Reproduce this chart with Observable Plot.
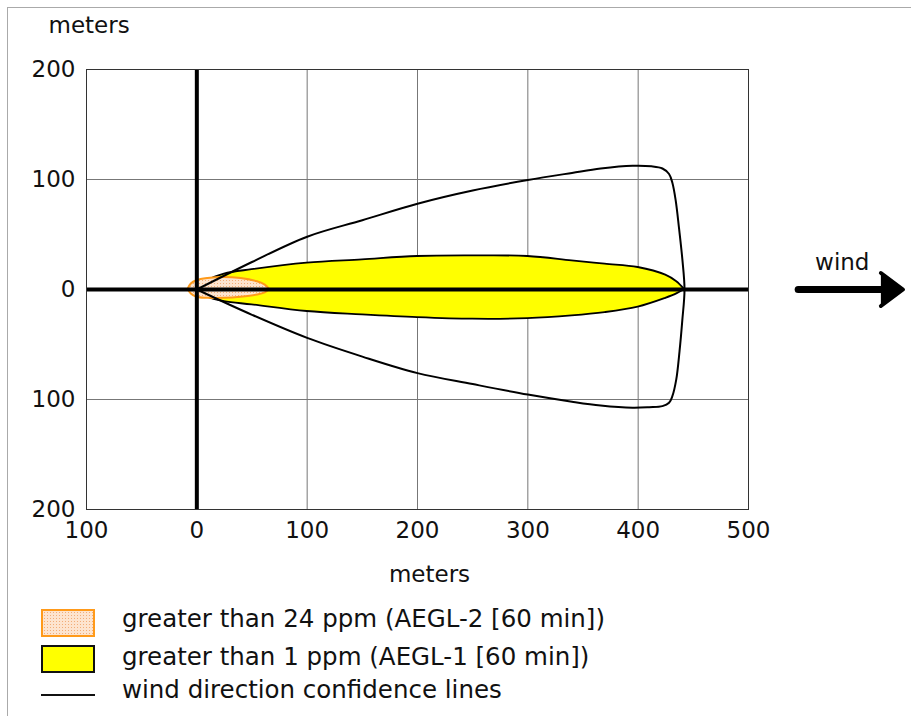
<!DOCTYPE html>
<html><head><meta charset="utf-8">
<script src="https://cdn.jsdelivr.net/npm/d3@7"></script>
<script src="https://cdn.jsdelivr.net/npm/@observablehq/plot@0.6"></script>
<style>
body{margin:0;background:#fff;font-family:"DejaVu Sans",Verdana,sans-serif;}
#wrap{position:relative;width:911px;height:716px;overflow:hidden;background:#fff;}
#border{position:absolute;left:7px;top:7px;right:0;bottom:0;border-top:1px solid #aaa;border-left:1px solid #aaa;pointer-events:none;}
#chart{position:absolute;left:0;top:0;}
.leg{position:absolute;font-size:24.5px;color:#111;line-height:1;white-space:nowrap;}
.sw{position:absolute;box-sizing:border-box;}
</style></head>
<body><div id="wrap"><div id="chart"></div><div id="legend"></div><div id="border"></div></div>
<script>
// ---- data ----
const xTicks = [-100, 0, 100, 200, 300, 400, 500];
const yTicks = [-200, -100, 0, 100, 200];
// AEGL-1 (> 1 ppm) footprint: downwind distance, upper / lower edge (m)
const aegl1X     = [0, 10, 25, 50, 100, 150, 200, 250, 300, 340, 370, 400, 425, 435, 442];
const aegl1Upper = [0, 8, 14, 18, 24, 27, 30, 30.5, 30, 26, 23, 20, 13, 7, 0];
const aegl1Lower = [0, -7, -11, -14, -20, -23, -25.5, -27, -26.5, -24, -21, -16, -8, -4, 0];
// AEGL-2 (> 24 ppm) footprint
const aegl2X     = [-8, -5, 0, 10, 25, 40, 55, 62, 66];
const aegl2Upper = [0, 5, 8, 10, 11, 10, 7, 4, 0];
const aegl2Lower = [0, -4, -7, -8, -8, -7, -5, -3, 0];
// wind direction confidence lines (closed outline)
const confX = [0, 50, 100, 150, 200, 250, 300, 340, 366, 395, 412, 422, 428, 431, 434, 437, 440, 442,
               440, 437.5, 434.5, 431, 428, 422, 410, 395, 366, 340, 300, 250, 200, 150, 100, 50, 0];
const confY = [0, 25, 48, 63, 78, 90, 99.5, 106, 110, 112.5, 112, 110, 105, 97, 81, 56, 28, 0,
               -28, -56, -82, -97, -103, -106, -107, -107.5, -105.5, -102, -95.5, -86, -76, -61, -44, -23, 0];
// wind arrow (in plot units, drawn outside frame)
const windShaftX = [545, 625];
const windHeadX = [620, 640, 620];
const windHeadY = [15, 0, -15];
const legendItems = [
  "greater than 24 ppm (AEGL-2 [60 min])",
  "greater than 1 ppm (AEGL-1 [60 min])",
  "wind direction confidence lines"
];

const aegl1 = aegl1X.map((x, i) => ({x, lo: aegl1Lower[i], hi: aegl1Upper[i]}));
const aegl2 = aegl2X.map((x, i) => ({x, lo: aegl2Lower[i], hi: aegl2Upper[i]}));
const conf = confX.map((x, i) => ({x, y: confY[i]}));
const shaft = windShaftX.map(x => ({x, y: 0}));
const head = windHeadX.map((x, i) => ({x, y: windHeadY[i]}));

const defs = () => {
  const d = d3.create("svg:defs");
  const p = d.append("pattern").attr("id", "dots").attr("width", 3).attr("height", 3)
    .attr("patternUnits", "userSpaceOnUse");
  p.append("rect").attr("width", 3).attr("height", 3).attr("fill", "#fde4cf");
  p.append("rect").attr("x", 1).attr("y", 1).attr("width", 1).attr("height", 1).attr("fill", "#f2ad78");
  return d.node();
};

const abs = d => String(Math.abs(d));

const chart = Plot.plot({
  width: 911,
  height: 595,
  marginLeft: 86, marginRight: 163, marginTop: 69, marginBottom: 86,
  x: {domain: [-100, 500]},
  y: {domain: [-200, 200]},
  style: {fontFamily: "'DejaVu Sans', Verdana, sans-serif", fontSize: "23px", color: "#111", background: "transparent", overflow: "visible"},
  marks: [
    defs,
    Plot.gridX(xTicks, {stroke: "#777", strokeOpacity: 1, strokeWidth: 1}),
    Plot.gridY(yTicks, {stroke: "#777", strokeOpacity: 1, strokeWidth: 1}),
    Plot.areaY(aegl1, {x: "x", y1: "lo", y2: "hi", fill: "#ffff00", stroke: "black", strokeWidth: 1.8, curve: "catmull-rom"}),
    Plot.areaY(aegl2, {x: "x", y1: "lo", y2: "hi", fill: "url(#dots)", stroke: "#ff9a1a", strokeWidth: 2, curve: "catmull-rom"}),
    Plot.line(conf, {x: "x", y: "y", stroke: "black", strokeWidth: 2, curve: "catmull-rom"}),
    Plot.ruleX([0], {stroke: "black", strokeWidth: 4}),
    Plot.ruleY([0], {stroke: "black", strokeWidth: 4}),
    Plot.frame({stroke: "#333", strokeWidth: 1}),
    Plot.axisX(xTicks, {tickSize: 0, tickPadding: 12, label: null, tickFormat: abs}),
    Plot.axisY(yTicks, {tickSize: 0, tickPadding: 11, label: null, tickFormat: abs}),
    Plot.text(["meters"], {frameAnchor: "top-left", textAnchor: "start", dx: -38, dy: -53}),
    Plot.text(["meters"], {frameAnchor: "bottom", dx: 12, dy: 72}),
    Plot.line(shaft, {x: "x", y: "y", stroke: "black", strokeWidth: 7, strokeLinecap: "round"}),
    Plot.line(head, {x: "x", y: "y", fill: "black", stroke: "black", strokeWidth: 4, strokeLinejoin: "round"}),
    Plot.text(["wind"], {x: 585, y: 24})
  ]
});
document.getElementById("chart").append(chart);

// ---- legend ----
const lg = document.getElementById("legend");
const sw1 = document.createElement("div");
sw1.className = "sw";
Object.assign(sw1.style, {left: "41px", top: "609px", width: "54px", height: "28px",
  border: "2px solid #ff9a1a",
  background: "url(\"data:image/svg+xml;utf8,<svg xmlns='http://www.w3.org/2000/svg' width='3' height='3'><rect width='3' height='3' fill='%23fde4cf'/><rect x='1' y='1' width='1' height='1' fill='%23f2ad78'/></svg>\")"});
const sw2 = document.createElement("div");
sw2.className = "sw";
Object.assign(sw2.style, {left: "41px", top: "645px", width: "54px", height: "28px",
  border: "2px solid #111", background: "#ffff00"});
const sw3 = document.createElement("div");
sw3.className = "sw";
Object.assign(sw3.style, {left: "41px", top: "694px", width: "54px", height: "2px", background: "#111"});
lg.append(sw1, sw2, sw3);
const tops = [607, 645, 678];
legendItems.forEach((t, i) => {
  const d = document.createElement("div");
  d.className = "leg";
  d.textContent = t;
  d.style.left = "122px";
  d.style.top = tops[i] + "px";
  lg.append(d);
});
</script>
</body></html>
